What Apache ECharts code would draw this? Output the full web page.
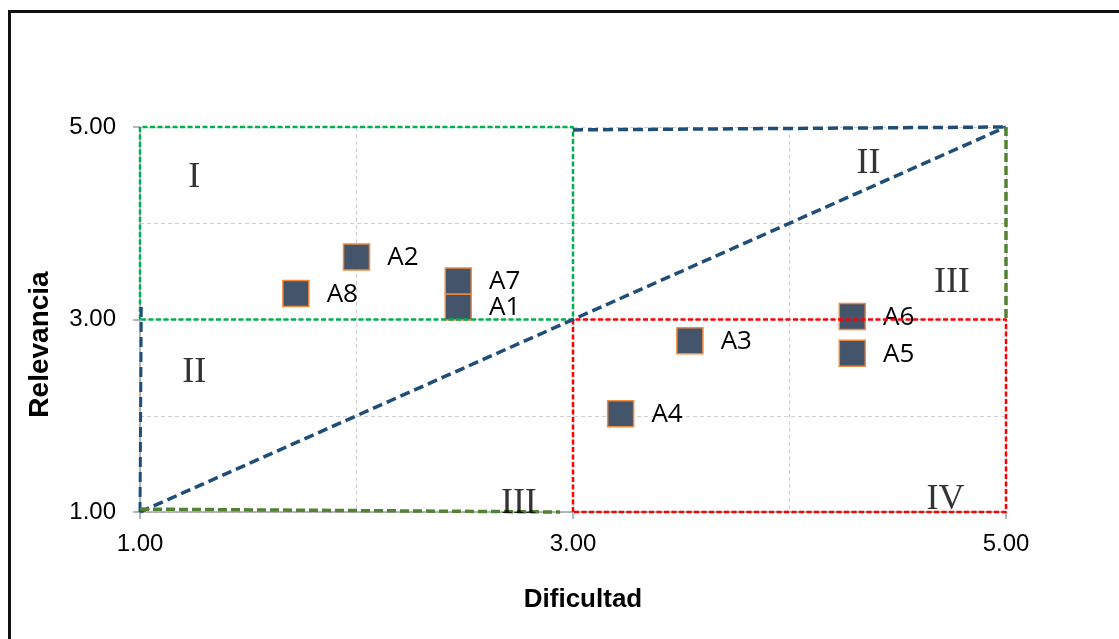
<!DOCTYPE html>
<html>
<head>
<meta charset="utf-8">
<script src="https://cdn.jsdelivr.net/npm/echarts@6/dist/echarts.min.js"></script>
<style>
html,body{margin:0;padding:0;background:#fff;}
#frame{position:absolute;left:8px;top:10px;width:1200px;height:700px;border-left:3px solid #111;border-top:3px solid #111;}
#chart{position:absolute;left:0;top:0;width:1119px;height:639px;}
</style>
</head>
<body>
<div id="frame"></div>
<div id="chart"></div>
<script>
// Activities
const names = ['A1','A2','A3','A4','A5','A6','A7','A8'];
const dificultad = [2.47, 2.00, 3.54, 3.22, 4.29, 4.29, 2.47, 1.72];
const relevancia = [3.13, 3.65, 2.78, 2.02, 2.65, 3.03, 3.40, 3.27];

// Quadrant labels
const romanText = ['I','II','III','II','III','IV'];
const romanX = [1.25, 4.365, 4.75, 1.25, 2.75, 4.72];
const romanY = [4.51, 4.65, 3.41, 2.48, 1.12, 1.16];

// Guide lines (data coordinates)
const greenRect = [[1,3],[1,5],[3,5],[3,3],[1,3]];
const redRect = [[3,1],[3,3],[5,3],[5,1],[3,1]];
const blueDiag = [[1,1],[5,5]];
const blueTop = [[3,4.97],[5,5]];
const blueLeft = [[1,1],[1.006,3.15]];
const oliveBottom = [[1,1.03],[2.94,1.0]];
const oliveRight = [[5,5],[5,3]];

// Axis ticks
const axisMin = 1, axisMax = 5, axisStep = 2;

const chart = echarts.init(document.getElementById('chart'));

function lineSeries(data, color, width, dash, z){
  return {
    type:'line', data:data, symbol:'none', clip:false, silent:true, z:z,
    lineStyle:{color:color, width:width, type:dash}, animation:false
  };
}

const gridLine = {show:true, lineStyle:{color:'#CFCFCF', width:1, type:[4,3]}};

chart.setOption({
  animation:false,
  grid:{left:140, right:113, top:127, bottom:127},
  xAxis:{
    type:'value', min:axisMin, max:axisMax, interval:axisStep,
    name:'Dificultad', nameLocation:'middle', nameGap:75,
    nameTextStyle:{fontFamily:'Liberation Sans', fontWeight:'bold', fontSize:26, color:'#000', padding:[0,0,0,20]},
    axisLine:{show:true, lineStyle:{color:'#A0A0A0', width:1.5}},
    axisTick:{show:true, inside:false, length:7, lineStyle:{color:'#A0A0A0', width:1.5}},
    axisLabel:{formatter:v=>v.toFixed(2), fontFamily:'Liberation Sans', fontSize:24, color:'#000', margin:20},
    splitLine:gridLine,
    minorTick:{show:false, splitNumber:2},
    minorSplitLine:gridLine
  },
  yAxis:{
    type:'value', min:axisMin, max:axisMax, interval:axisStep,
    name:'Relevancia', nameLocation:'middle', nameGap:86, nameRotate:90,
    nameTextStyle:{fontFamily:'Liberation Sans', fontWeight:'bold', fontSize:28, color:'#000', padding:[0,50,0,0]},
    axisLine:{show:true, lineStyle:{color:'#A0A0A0', width:1.5}},
    axisTick:{show:true, inside:false, length:7, lineStyle:{color:'#A0A0A0', width:1.5}},
    axisLabel:{formatter:v=>v.toFixed(2), fontFamily:'Liberation Sans', fontSize:24, color:'#000', margin:24},
    splitLine:gridLine,
    minorTick:{show:false, splitNumber:2},
    minorSplitLine:gridLine
  },
  series:[
    {
      type:'scatter', z:2,
      data: names.map((n,i)=>({name:n, value:[dificultad[i], relevancia[i]]})),
      symbol:'rect', symbolSize:26,
      itemStyle:{color:'#44546A', borderColor:'#F08A3C', borderWidth:1.5, opacity:1},
      label:{show:true, position:'right', distance:17, offset:[0,1], formatter:p=>p.name,
        fontFamily:'Open Sans', fontSize:26, color:'#000'}
    },
    {
      type:'scatter', z:4, silent:true,
      data: romanText.map((t,i)=>({name:t, value:[romanX[i], romanY[i]]})),
      symbolSize:1, itemStyle:{color:'rgba(0,0,0,0)'},
      label:{show:true, position:'inside', offset:[0,3], formatter:p=>p.name,
        fontFamily:'Liberation Serif', fontSize:36, color:'#000'}
    },
    lineSeries(greenRect, '#00B050', 2.5, [5,2.5], 3),
    lineSeries(redRect, '#FF0000', 2.5, [5,2.5], 3),
    lineSeries(blueDiag, '#1F4E79', 3.5, [10,5], 3),
    lineSeries(blueTop, '#1F4E79', 3.5, [10,5], 3),
    lineSeries(blueLeft, '#1F4E79', 3, [10,5], 3),
    lineSeries(oliveBottom, '#548235', 3.5, [9,4], 3),
    lineSeries(oliveRight, '#548235', 3.5, [9,4], 3)
  ]
});
</script>
</body>
</html>
